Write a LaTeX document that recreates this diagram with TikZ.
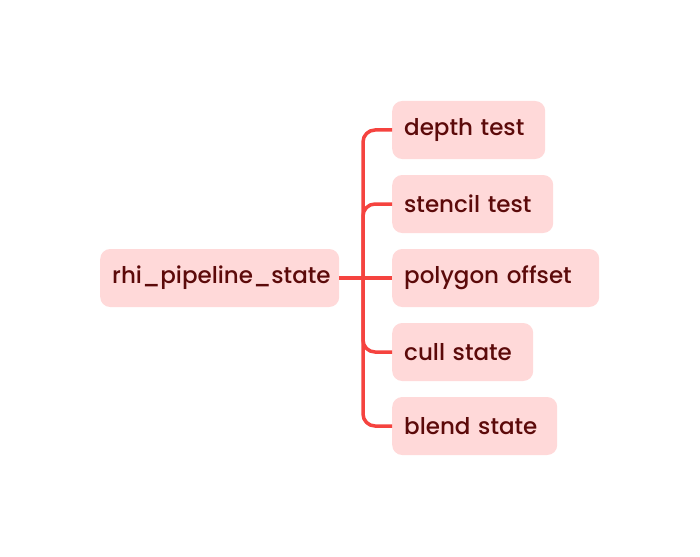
\documentclass[tikz,border=0pt]{standalone}
\usepackage{fontspec}
\setmainfont{Poppins}[UprightFont={* Medium}]
\usepackage{tikz}
\usepackage{xcolor}

\definecolor{boxfill}{HTML}{FFD9D9}
\definecolor{boxtext}{HTML}{5C0A0A}
\definecolor{linkred}{HTML}{F5433F}

\tikzset{
    item/.style={fill=boxfill, text=boxtext, rounded corners=10pt, align=left,
        minimum height=58pt, inner xsep=12pt, font=\fontsize{23}{27}\selectfont},
    link/.style={draw=linkred, line width=3.5pt, rounded corners=12pt}
}

\begin{document}
\begin{tikzpicture}[x=1pt, y=-1pt]
        \useasboundingbox (0,0) rectangle (700,556);

        % Root node
        \node[item, anchor=west, text width=215pt] (root) at (100,278) {rhi\_pipeline\_state};

        % Child nodes
        \node[item, anchor=west, text width=129pt] (depth) at (392,130) {depth test};
        \node[item, anchor=west, text width=137pt] (stencil) at (392,204) {stencil test};
        \node[item, anchor=west, text width=183pt] (polygon) at (392,278) {polygon offset};
        \node[item, anchor=west, text width=117pt] (cull) at (392,352) {cull state};
        \node[item, anchor=west, text width=141pt] (blend) at (392,426) {blend state};

        % Draw the branches
        \coordinate (hub) at (363,278);
        \draw[link] (root.east) -- (polygon.west);
        \foreach \n in {depth,stencil,cull,blend} {
            \draw[link] (hub) |- (\n.west);
        }
    \end{tikzpicture}
\end{document}
